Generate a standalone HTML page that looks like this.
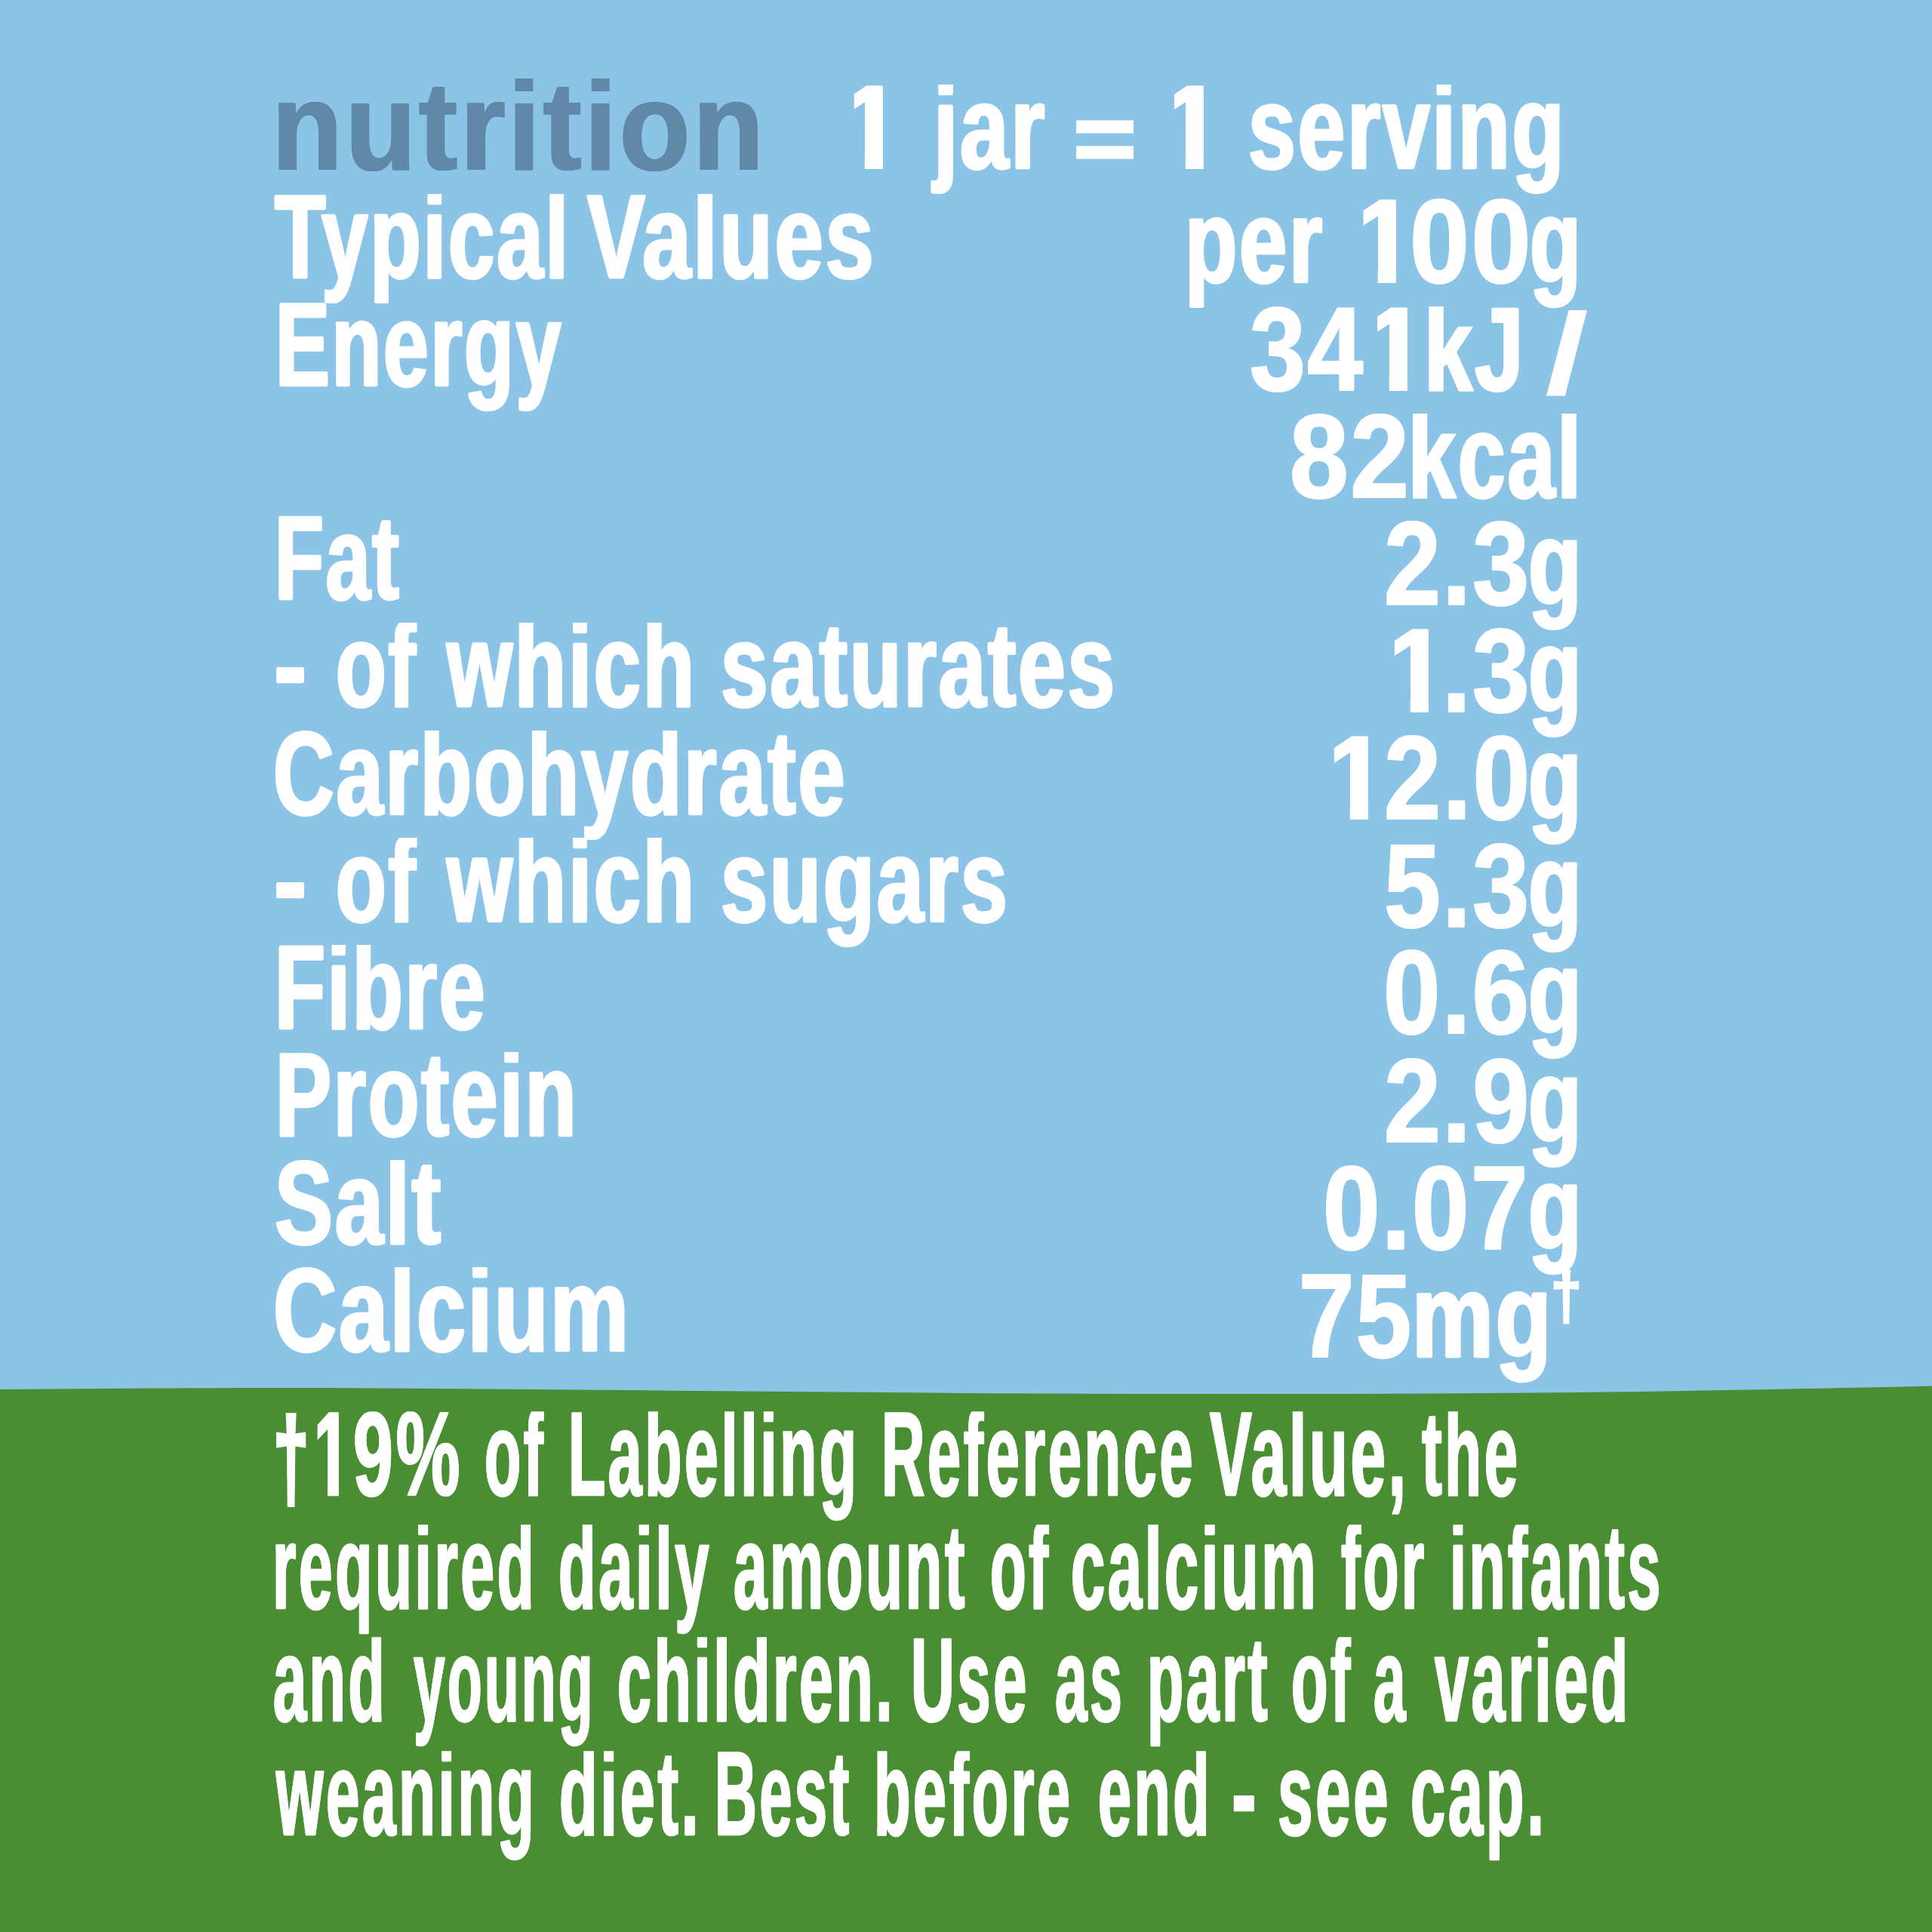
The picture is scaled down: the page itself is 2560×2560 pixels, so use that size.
<!DOCTYPE html>
<html lang="en"><head><meta charset="utf-8"><title>nutrition</title>
<style>html,body{margin:0;padding:0}
body{width:2560px;height:2560px;position:relative;overflow:hidden;background:#8cc4e8;font-family:"Liberation Sans",sans-serif;font-weight:bold}
.t{position:absolute;left:0;top:0;white-space:pre;line-height:1;transform-origin:0 0}
.m{font-size:160px;letter-spacing:4px;-webkit-text-stroke:2.4px #fff;color:#fff;text-shadow:2.50px 0 0 #fff,-2.50px 0 0 #fff,1.25px 0 0 #fff,-1.25px 0 0 #fff}
.d{font-size:160px;letter-spacing:3px;-webkit-text-stroke:2.0px #fff;color:#fff;text-shadow:1.50px 0 0 #fff,-1.50px 0 0 #fff,0.75px 0 0 #fff,-0.75px 0 0 #fff}
.g{font-size:160px;letter-spacing:7px;-webkit-text-stroke:2.4px #fff;color:#fff;text-shadow:1.80px 0 0 #fff,-1.80px 0 0 #fff,0.90px 0 0 #fff,-0.90px 0 0 #fff}
.s{font-size:160px;letter-spacing:0px;color:#fff;text-shadow:none}
.dg{font-size:92px;letter-spacing:0px;-webkit-text-stroke:3px #fff;color:#fff;text-shadow:none}
.gd{font-size:160px;letter-spacing:0px;-webkit-text-stroke:6px #fff;color:#fff;text-shadow:2.00px 0 0 #fff,-2.00px 0 0 #fff,1.00px 0 0 #fff,-1.00px 0 0 #fff}
.e{font-size:160px;letter-spacing:0px;-webkit-text-stroke:4px #fff;color:#fff;text-shadow:1.00px 0 0 #fff,-1.00px 0 0 #fff,0.50px 0 0 #fff,-0.50px 0 0 #fff}
.n{font-size:170px;letter-spacing:4px;color:#5f89a6;text-shadow:1.50px 0 0 #5f89a6,-1.50px 0 0 #5f89a6,0.75px 0 0 #5f89a6,-0.75px 0 0 #5f89a6}
#grass{position:absolute;left:0;top:0;width:2560px;height:2560px}
</style></head><body>
<svg id="grass" viewBox="0 0 2560 2560"><path d="M0 1841 C 200 1839.5 350 1838.5 500 1839.5 C 800 1841.5 1000 1844 1280 1846 C 1500 1847.3 1700 1847.3 1900 1846.6 C 2100 1845.6 2300 1842 2560 1836.5 L2560 2560 L0 2560 Z" fill="#4a8e34"/></svg>
<div class="ln" id="h"><span class="t n" style="left:360.36px;top:82.87px;transform:scale(0.9040,0.9835)">nutrition</span> </div>
<div class="ln" id="hj"><span class="t d" style="left:1112.24px;top:89.93px;clip-path:polygon(20.80px -30px,61.00px -30px,61.00px 156px,35.54px 156px,35.54px 74.00px,20.80px 74.00px);transform:scale(0.9500,0.9821)">1</span> <span class="t m" style="left:1237.12px;top:89.93px;clip-path:inset(22.5px -99px -99px -99px);transform:scale(0.7234,0.9821)">jar</span> <span class="t e" style="left:1421.51px;top:119.40px;transform:scale(0.8988,0.8000)">=</span> <span class="t d" style="left:1536.54px;top:89.93px;clip-path:polygon(19.95px -30px,61.00px -30px,61.00px 156px,35.54px 156px,35.54px 74.00px,19.95px 74.00px);transform:scale(0.9500,0.9821)">1</span> <span class="t m" style="left:1654.28px;top:89.93px;clip-path:inset(22.5px -99px -99px -99px);transform:scale(0.7055,0.9821)">serving</span> </div>
<div class="ln" id="l1"><span class="t m" style="left:364.19px;top:234.93px;clip-path:inset(22.5px -99px -99px -99px);transform:scale(0.6906,0.9821)">Typical</span> <span class="t m" style="left:778.22px;top:234.93px;clip-path:inset(22.5px -99px -99px -99px);transform:scale(0.7204,0.9821)">Values</span> </div>
<div class="ln" id="l2"><span class="t m" style="left:364.62px;top:377.93px;clip-path:inset(22.5px -99px -99px -99px);transform:scale(0.6727,0.9821)">Energy</span> </div>
<div class="ln" id="l3"><span class="t m" style="left:363.69px;top:661.43px;clip-path:inset(22.5px -99px -99px -99px);transform:scale(0.6639,0.9821)">Fat</span> </div>
<div class="ln" id="l4"><span class="t m" style="left:362.76px;top:802.93px;clip-path:inset(22.5px -99px -99px -99px);transform:scale(0.8111,0.9821)">-</span> <span class="t m" style="left:444.77px;top:802.93px;clip-path:inset(22.5px -99px -99px -99px);transform:scale(0.6818,0.9821)">of</span> <span class="t m" style="left:592.10px;top:802.93px;clip-path:inset(22.5px -99px -99px -99px);transform:scale(0.6989,0.9821)">which</span> <span class="t m" style="left:955.29px;top:802.93px;clip-path:inset(22.5px -99px -99px -99px);transform:scale(0.7019,0.9821)">saturates</span> </div>
<div class="ln" id="l5"><span class="t m" style="left:362.21px;top:946.43px;clip-path:inset(22.5px -99px -99px -99px);transform:scale(0.6987,0.9821)">Carbohydrate</span> </div>
<div class="ln" id="l6"><span class="t m" style="left:362.76px;top:1087.93px;clip-path:inset(22.5px -99px -99px -99px);transform:scale(0.8111,0.9821)">-</span> <span class="t m" style="left:444.77px;top:1087.93px;clip-path:inset(22.5px -99px -99px -99px);transform:scale(0.6818,0.9821)">of</span> <span class="t m" style="left:592.10px;top:1087.93px;clip-path:inset(22.5px -99px -99px -99px);transform:scale(0.6989,0.9821)">which</span> <span class="t m" style="left:955.31px;top:1087.93px;clip-path:inset(22.5px -99px -99px -99px);transform:scale(0.6972,0.9821)">sugars</span> </div>
<div class="ln" id="l7"><span class="t m" style="left:363.53px;top:1229.93px;clip-path:inset(22.5px -99px -99px -99px);transform:scale(0.6843,0.9821)">Fibre</span> </div>
<div class="ln" id="l8"><span class="t m" style="left:365.46px;top:1372.43px;clip-path:inset(22.5px -99px -99px -99px);transform:scale(0.6929,0.9821)">Protein</span> </div>
<div class="ln" id="l9"><span class="t m" style="left:363.56px;top:1514.93px;clip-path:inset(22.5px -99px -99px -99px);transform:scale(0.7204,0.9821)">Salt</span> </div>
<div class="ln" id="l10"><span class="t m" style="left:362.09px;top:1657.43px;clip-path:inset(22.5px -99px -99px -99px);transform:scale(0.7283,0.9821)">Calcium</span> </div>
<div class="ln" id="r1"><span class="t m" style="left:1570.33px;top:241.43px;clip-path:inset(22.5px -99px -99px -99px);transform:scale(0.7088,0.9821)">per</span> <span class="t d" style="left:1792.24px;top:241.43px;clip-path:polygon(15.01px -30px,61.00px -30px,61.00px 156px,35.54px 156px,35.54px 74.00px,15.01px 74.00px);transform:scale(0.9500,0.9821)">1</span><span class="t d" style="left:1868.07px;top:241.43px;clip-path:inset(22.5px -99px -99px -99px);transform:scale(0.8860,0.9821)">00</span><span class="t m" style="left:2027.22px;top:241.43px;clip-path:inset(22.5px -99px -99px -99px);transform:scale(0.6941,0.9821)">g</span> </div>
<div class="ln" id="r2"><span class="t d" style="left:1656.24px;top:384.43px;clip-path:inset(22.5px -99px -99px -99px);transform:scale(0.8283,0.9821)">34</span><span class="t d" style="left:1807.04px;top:384.43px;clip-path:polygon(19.01px -30px,61.00px -30px,61.00px 156px,35.54px 156px,35.54px 74.00px,19.01px 74.00px);transform:scale(0.9500,0.9821)">1</span><span class="t m" style="left:1886.89px;top:384.43px;clip-path:inset(22.5px -99px -99px -99px);transform:scale(0.7230,0.9821)">kJ</span> <span class="t s" style="left:2047.40px;top:392.08px;transform:scale(1.3024,0.9550)">/</span> </div>
<div class="ln" id="r3"><span class="t d" style="left:1709.01px;top:526.43px;clip-path:inset(22.5px -99px -99px -99px);transform:scale(0.8721,0.9821)">82</span><span class="t m" style="left:1866.13px;top:526.43px;clip-path:inset(22.5px -99px -99px -99px);transform:scale(0.7075,0.9821)">kcal</span> </div>
<div class="ln" id="r4"><span class="t d" style="left:1834.14px;top:667.93px;clip-path:inset(22.5px -99px -99px -99px);transform:scale(0.8409,0.9821)">2.3</span><span class="t m" style="left:2024.61px;top:667.93px;clip-path:inset(22.5px -99px -99px -99px);transform:scale(0.7235,0.9821)">g</span> </div>
<div class="ln" id="r5"><span class="t d" style="left:1834.74px;top:810.43px;clip-path:polygon(13.43px -30px,61.00px -30px,61.00px 156px,35.54px 156px,35.54px 74.00px,13.43px 74.00px);transform:scale(0.9500,0.9821)">1</span><span class="t d" style="left:1910.89px;top:810.43px;clip-path:inset(22.5px -99px -99px -99px);transform:scale(0.8455,0.9821)">.3</span><span class="t m" style="left:2024.61px;top:810.43px;clip-path:inset(22.5px -99px -99px -99px);transform:scale(0.7235,0.9821)">g</span> </div>
<div class="ln" id="r6"><span class="t d" style="left:1754.74px;top:952.43px;clip-path:polygon(13.43px -30px,61.00px -30px,61.00px 156px,35.54px 156px,35.54px 74.00px,13.43px 74.00px);transform:scale(0.9500,0.9821)">1</span><span class="t d" style="left:1834.12px;top:952.43px;clip-path:inset(22.5px -99px -99px -99px);transform:scale(0.8447,0.9821)">2.0</span><span class="t m" style="left:2024.61px;top:952.43px;clip-path:inset(22.5px -99px -99px -99px);transform:scale(0.7235,0.9821)">g</span> </div>
<div class="ln" id="r7"><span class="t d" style="left:1834.14px;top:1095.43px;clip-path:inset(22.5px -99px -99px -99px);transform:scale(0.8409,0.9821)">5.3</span><span class="t m" style="left:2024.61px;top:1095.43px;clip-path:inset(22.5px -99px -99px -99px);transform:scale(0.7235,0.9821)">g</span> </div>
<div class="ln" id="r8"><span class="t d" style="left:1833.28px;top:1236.43px;clip-path:inset(22.5px -99px -99px -99px);transform:scale(0.8447,0.9821)">0.6</span><span class="t m" style="left:2024.61px;top:1236.43px;clip-path:inset(22.5px -99px -99px -99px);transform:scale(0.7235,0.9821)">g</span> </div>
<div class="ln" id="r9"><span class="t d" style="left:1834.14px;top:1380.43px;clip-path:inset(22.5px -99px -99px -99px);transform:scale(0.8409,0.9821)">2.9</span><span class="t m" style="left:2024.61px;top:1380.43px;clip-path:inset(22.5px -99px -99px -99px);transform:scale(0.7235,0.9821)">g</span> </div>
<div class="ln" id="r10"><span class="t d" style="left:1753.27px;top:1522.43px;clip-path:inset(22.5px -99px -99px -99px);transform:scale(0.8468,0.9821)">0.07</span><span class="t m" style="left:2024.61px;top:1522.43px;clip-path:inset(22.5px -99px -99px -99px);transform:scale(0.7235,0.9821)">g</span> </div>
<div class="ln" id="r11"><span class="t d" style="left:1720.88px;top:1664.93px;clip-path:inset(22.5px -99px -99px -99px);transform:scale(0.8237,0.9821)">75</span><span class="t m" style="left:1871.45px;top:1664.93px;clip-path:inset(22.5px -99px -99px -99px);transform:scale(0.7566,0.9821)">mg</span><span class="t dg" style="left:2055.01px;top:1672.96px;transform:scale(0.7976,0.9539)">†</span> </div>
<div class="ln" id="g1"><span class="t gd" style="left:361.55px;top:1857.47px;transform:scale(0.5315,0.9394)">†</span><span class="t g" style="left:414.47px;top:1847.82px;clip-path:polygon(11.45px -30px,61.30px -30px,61.30px 156px,35.24px 156px,35.24px 74.00px,11.45px 74.00px);transform:scale(0.5700,0.9866)">1</span><span class="t g" style="left:468.43px;top:1847.82px;clip-path:inset(22.5px -99px -99px -99px);transform:scale(0.5927,0.9866)">9%</span> <span class="t g" style="left:642.24px;top:1847.82px;clip-path:inset(22.5px -99px -99px -99px);transform:scale(0.4923,0.9866)">of</span> <span class="t g" style="left:753.46px;top:1847.82px;clip-path:inset(22.5px -99px -99px -99px);transform:scale(0.5039,0.9866)">Labelling</span> <span class="t g" style="left:1167.83px;top:1847.82px;clip-path:inset(22.5px -99px -99px -99px);transform:scale(0.4972,0.9866)">Reference</span> <span class="t g" style="left:1603.00px;top:1847.82px;clip-path:inset(22.5px -99px -99px -99px);transform:scale(0.5225,0.9866)">Value,</span> <span class="t g" style="left:1883.90px;top:1847.82px;clip-path:inset(22.5px -99px -99px -99px);transform:scale(0.5004,0.9866)">the</span> </div>
<div class="ln" id="g2"><span class="t g" style="left:361.27px;top:1997.82px;clip-path:inset(22.5px -99px -99px -99px);transform:scale(0.5031,0.9866)">required</span> <span class="t g" style="left:739.86px;top:1997.82px;clip-path:inset(22.5px -99px -99px -99px);transform:scale(0.5080,0.9866)">daily</span> <span class="t g" style="left:972.00px;top:1997.82px;clip-path:inset(22.5px -99px -99px -99px);transform:scale(0.5002,0.9866)">amount</span> <span class="t g" style="left:1311.56px;top:1997.82px;clip-path:inset(22.5px -99px -99px -99px);transform:scale(0.4877,0.9866)">of</span> <span class="t g" style="left:1418.96px;top:1997.82px;clip-path:inset(22.5px -99px -99px -99px);transform:scale(0.5090,0.9866)">calcium</span> <span class="t g" style="left:1777.32px;top:1997.82px;clip-path:inset(22.5px -99px -99px -99px);transform:scale(0.4845,0.9866)">for</span> <span class="t g" style="left:1921.07px;top:1997.82px;clip-path:inset(22.5px -99px -99px -99px);transform:scale(0.4928,0.9866)">infants</span> </div>
<div class="ln" id="g3"><span class="t g" style="left:361.81px;top:2146.82px;clip-path:inset(22.5px -99px -99px -99px);transform:scale(0.4955,0.9866)">and</span> <span class="t g" style="left:548.00px;top:2146.82px;clip-path:inset(22.5px -99px -99px -99px);transform:scale(0.4677,0.9866)">young</span> <span class="t g" style="left:818.38px;top:2146.82px;clip-path:inset(22.5px -99px -99px -99px);transform:scale(0.5044,0.9866)">children.</span> <span class="t g" style="left:1207.21px;top:2146.82px;clip-path:inset(22.5px -99px -99px -99px);transform:scale(0.4990,0.9866)">Use</span> <span class="t g" style="left:1397.76px;top:2146.82px;clip-path:inset(22.5px -99px -99px -99px);transform:scale(0.4797,0.9866)">as</span> <span class="t g" style="left:1519.96px;top:2146.82px;clip-path:inset(22.5px -99px -99px -99px);transform:scale(0.4936,0.9866)">part</span> <span class="t g" style="left:1711.32px;top:2146.82px;clip-path:inset(22.5px -99px -99px -99px);transform:scale(0.4955,0.9866)">of</span> <span class="t g" style="left:1820.07px;top:2146.82px;clip-path:inset(22.5px -99px -99px -99px);transform:scale(0.4775,0.9866)">a</span> <span class="t g" style="left:1900.91px;top:2146.82px;clip-path:inset(22.5px -99px -99px -99px);transform:scale(0.5062,0.9866)">varied</span> </div>
<div class="ln" id="g4"><span class="t g" style="left:365.60px;top:2298.12px;clip-path:inset(22.5px -99px -99px -99px);transform:scale(0.5012,0.9866)">weaning</span> <span class="t g" style="left:740.61px;top:2298.12px;clip-path:inset(22.5px -99px -99px -99px);transform:scale(0.5172,0.9866)">diet.</span> <span class="t g" style="left:946.84px;top:2298.12px;clip-path:inset(22.5px -99px -99px -99px);transform:scale(0.4841,0.9866)">Best</span> <span class="t g" style="left:1157.63px;top:2298.12px;clip-path:inset(22.5px -99px -99px -99px);transform:scale(0.4963,0.9866)">before</span> <span class="t g" style="left:1454.63px;top:2298.12px;clip-path:inset(22.5px -99px -99px -99px);transform:scale(0.4940,0.9866)">end</span> <span class="t g" style="left:1631.64px;top:2298.12px;clip-path:inset(22.5px -99px -99px -99px);transform:scale(0.6114,0.9866)">-</span> <span class="t g" style="left:1693.11px;top:2298.12px;clip-path:inset(22.5px -99px -99px -99px);transform:scale(0.5216,0.9866)">see</span> <span class="t g" style="left:1868.60px;top:2298.12px;clip-path:inset(22.5px -99px -99px -99px);transform:scale(0.5193,0.9866)">cap.</span> </div>

</body></html>
